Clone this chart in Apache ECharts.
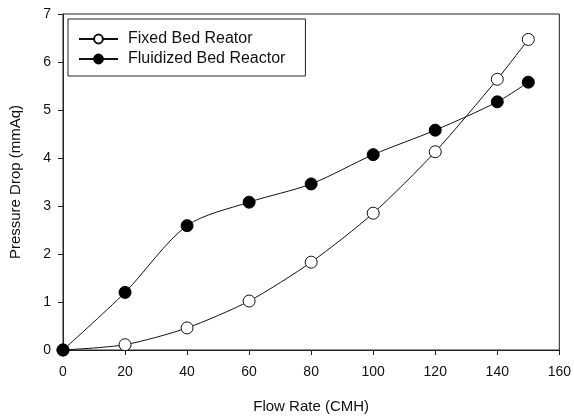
<!DOCTYPE html>
<html lang="en">
<head>
    <meta charset="UTF-8">
    <title>Pressure Drop</title>
    <script type="text/javascript" src="https://cdn.jsdelivr.net/npm/echarts@6/dist/echarts.min.js"></script>
</head>
<body style="margin:0">
<div id="main" style="width:574px;height:419px"></div>

<script type="text/javascript">
    var flowRate = [0, 20, 40, 60, 80, 100, 120, 140, 150]
    var fixedBed = [0, 0.11, 0.46, 1.02, 1.83, 2.85, 4.13, 5.64, 6.47]
    var fluidizedBed = [0, 1.2, 2.59, 3.08, 3.46, 4.07, 4.58, 5.17, 5.58]

    function pairs(ys) {
        var out = []
        for (var i = 0; i < flowRate.length; i++) {
            out.push([flowRate[i], ys[i]])
        }
        return out
    }

    var chartDom = document.getElementById('main');
    var myChart = echarts.init(chartDom);
    var font = 'Liberation Sans, Arial, sans-serif'

    var option = {
        animation: false,
        backgroundColor: '#fff',
        grid: {
            left: 61, right: 14, top: 14, bottom: 65,
            show: true, borderColor: '#222', borderWidth: 1
        },
        legend: {
            left: 68, top: 19,
            orient: 'vertical',
            itemWidth: 39, itemHeight: 11, itemGap: 4,
            padding: [12, 20, 9, 10],
            borderColor: '#222', borderWidth: 1,
            textStyle: {fontFamily: font, fontSize: 16, color: '#111', padding: [0, 0, 0, 5]},
            data: ['Fixed Bed Reator', 'Fluidized Bed Reactor']
        },
        xAxis: {
            type: 'value',
            min: 0, max: 160, interval: 20,
            name: 'Flow Rate (CMH)',
            nameLocation: 'middle', nameGap: 49,
            nameTextStyle: {fontFamily: font, fontSize: 15, color: '#111'},
            axisLine: {lineStyle: {color: '#222'}},
            axisTick: {show: true, length: 5, lineStyle: {color: '#222'}},
            axisLabel: {fontFamily: font, fontSize: 14, color: '#111', margin: 15},
            splitLine: {show: false}
        },
        yAxis: {
            type: 'value',
            min: 0, max: 7, interval: 1,
            name: 'Pressure Drop (mmAq)',
            nameLocation: 'middle', nameGap: 40,
            nameTextStyle: {fontFamily: font, fontSize: 15, color: '#111'},
            axisLine: {show: true, lineStyle: {color: '#222'}},
            axisTick: {show: true, length: 5, lineStyle: {color: '#222'}},
            axisLabel: {fontFamily: font, fontSize: 14, color: '#111', margin: 12},
            splitLine: {show: false}
        },
        series: [
            {
                name: 'Fixed Bed Reator',
                type: 'line',
                data: pairs(fixedBed),
                smooth: 0.25,
                symbol: 'circle', symbolSize: 12,
                lineStyle: {color: '#111', width: 1},
                itemStyle: {color: '#fff', borderColor: '#111', borderWidth: 1},
                z: 3
            },
            {
                name: 'Fluidized Bed Reactor',
                type: 'line',
                data: pairs(fluidizedBed),
                smooth: 0.3,
                symbol: 'circle', symbolSize: 12,
                lineStyle: {color: '#111', width: 1},
                itemStyle: {color: '#000', borderColor: '#000', borderWidth: 1},
                z: 4
            }
        ]
    };

    myChart.setOption(option);
</script>
</body>
</html>
